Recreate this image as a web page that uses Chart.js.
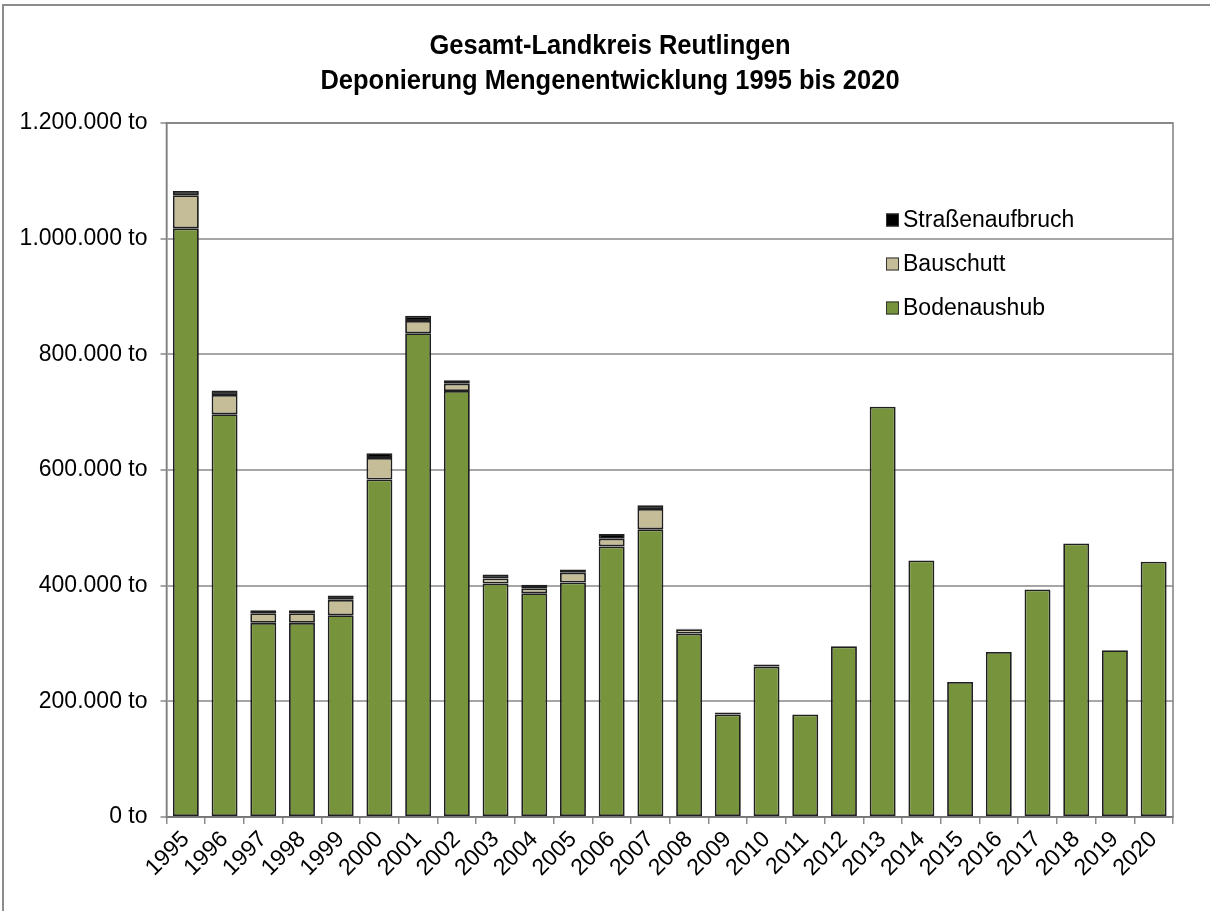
<!DOCTYPE html>
<html lang="de">
<head>
<meta charset="utf-8">
<title>Deponierung Mengenentwicklung 1995 bis 2020</title>
<script src="https://cdn.jsdelivr.net/npm/chart.js@4.4.1/dist/chart.umd.min.js"></script>
<style>
    html, body { margin: 0; padding: 0; background: #fff; }
    #wrap { width: 1210px; height: 911px; position: relative; }
</style>
</head>
<body>
<div id="wrap"><canvas id="deponieChart" width="1210" height="911"></canvas></div>
<script>
        // Jahre und Mengen (Tonnen) je Abfallart
        const years = ['1995', '1996', '1997', '1998', '1999', '2000', '2001', '2002', '2003',
            '2004', '2005', '2006', '2007', '2008', '2009', '2010', '2011', '2012', '2013',
            '2014', '2015', '2016', '2017', '2018', '2019', '2020'];

        const bodenaushub = [1017800, 696300, 335700, 335700, 348800, 583500, 836500, 736500, 403800,
            387000, 405500, 467900, 497400, 317100, 177300, 260100, 177300, 295100, 709300,
            443600, 233400, 285400, 393400, 473100, 288200, 441400];

        const bauschutt = [57200, 33300, 16600, 16600, 26700, 37400, 21300, 12600, 8700,
            8700, 16800, 13300, 35200, 7500, 0, 0, 0, 0, 0,
            0, 0, 0, 0, 0, 0, 0];

        const strassenaufbruch = [7600, 7800, 5200, 5200, 7500, 8100, 8700, 5900, 6900,
            5900, 5700, 8000, 6400, 1000, 3500, 3500, 0, 0, 0,
            0, 0, 0, 0, 0, 0, 0];

        const yTicks = [0, 200000, 400000, 600000, 800000, 1000000, 1200000];

        const titleLines = ['Gesamt-Landkreis Reutlingen', 'Deponierung Mengenentwicklung 1995 bis 2020'];

        const FONT = "'Liberation Sans', Arial, sans-serif";

        // Rahmen um das ganze Diagramm und um die Zeichenfläche
        const framePlugin = {
            id: 'frames',
            beforeDraw(chart) {
                const c = chart.ctx;
                c.save();
                c.fillStyle = '#fff';
                c.fillRect(0, 0, chart.width, chart.height);
                c.strokeStyle = '#8c8c8c';
                c.lineWidth = 2;
                c.beginPath();
                c.moveTo(3, chart.height + 5);
                c.lineTo(3, 5);
                c.lineTo(chart.width + 5, 5);
                c.stroke();
                c.restore();
            },
            beforeDatasetsDraw(chart) {
                const a = chart.chartArea;
                const c = chart.ctx;
                c.save();
                c.strokeStyle = '#7f7f7f';
                c.lineWidth = 1.5;
                c.strokeRect(a.left, a.top, a.right - a.left, a.bottom - a.top);
                c.restore();
            }
        };

        // Schmale, fette Überschrift über der ganzen Breite
        const titlePlugin = {
            id: 'narrowTitle',
            afterDraw(chart) {
                const c = chart.ctx;
                c.save();
                c.fillStyle = '#000';
                c.font = 'bold 28px ' + FONT;
                c.textAlign = 'center';
                c.textBaseline = 'middle';
                titleLines.forEach((line, i) => {
                    c.save();
                    c.translate(610, 46 + i * 35);
                    c.scale(0.91, 1);
                    c.fillText(line, 0, 0);
                    c.restore();
                });
                c.restore();
            }
        };

        // Legende innerhalb der Zeichenfläche, oben rechts, in umgekehrter Reihenfolge
        const innerLegend = {
            id: 'innerLegend',
            afterDatasetsDraw(chart) {
                const c = chart.ctx;
                const sets = chart.data.datasets.slice().reverse();
                c.save();
                c.font = '23px ' + FONT;
                c.textBaseline = 'middle';
                c.textAlign = 'left';
                sets.forEach((ds, i) => {
                    const y = 220 + i * 44;
                    c.fillStyle = ds.backgroundColor;
                    c.fillRect(886, y - 6.5, 13, 13);
                    c.strokeStyle = '#333';
                    c.lineWidth = 1;
                    c.strokeRect(886.5, y - 6, 12, 12);
                    c.fillStyle = '#000';
                    c.fillText(ds.label, 903, y + 1);
                });
                c.restore();
            }
        };

        const barStyle = {
            borderColor: '#1f1f1f',
            borderWidth: 1.8,
            borderSkipped: false,
            barPercentage: 0.67,
            categoryPercentage: 1.0
        };

        const ctx = document.getElementById('deponieChart').getContext('2d');

        new Chart(ctx, {
            type: 'bar',
            data: {
                labels: years,
                datasets: [
                    { label: 'Bodenaushub', data: bodenaushub, backgroundColor: '#77933C', ...barStyle },
                    { label: 'Bauschutt', data: bauschutt, backgroundColor: '#C4BD97', ...barStyle },
                    { label: 'Straßenaufbruch', data: strassenaufbruch, backgroundColor: '#000000', ...barStyle }
                ]
            },
            options: {
                responsive: false,
                animation: false,
                layout: { padding: { left: 0, right: 37, top: 123, bottom: 0 } },
                plugins: {
                    legend: { display: false },
                    tooltip: { enabled: false },
                    title: { display: false }
                },
                scales: {
                    x: {
                        stacked: true,
                        grid: {
                            drawOnChartArea: false,
                            drawTicks: true,
                            tickLength: 7,
                            color: '#8c8c8c',
                            lineWidth: 1.5
                        },
                        border: { display: true, color: '#555', width: 1.5 },
                        ticks: {
                            color: '#000',
                            font: { family: FONT, size: 23 },
                            minRotation: 45,
                            maxRotation: 45,
                            autoSkip: false,
                            padding: 2
                        },
                        afterFit(scale) { scale.height = 94; }
                    },
                    y: {
                        stacked: true,
                        min: 0,
                        max: 1200000,
                        afterBuildTicks(scale) {
                            scale.ticks = yTicks.map(v => ({ value: v }));
                        },
                        grid: {
                            color: '#a6a6a6',
                            lineWidth: 2,
                            tickLength: 6
                        },
                        border: { display: true, color: '#7f7f7f', width: 1.5 },
                        ticks: {
                            color: '#000',
                            font: { family: FONT, size: 23 },
                            padding: 13,
                            callback: v => v.toLocaleString('de-DE') + ' to'
                        },
                        afterFit(scale) { scale.width = 166.5; }
                    }
                }
            },
            plugins: [framePlugin, titlePlugin, innerLegend]
        });
</script>
</body>
</html>
